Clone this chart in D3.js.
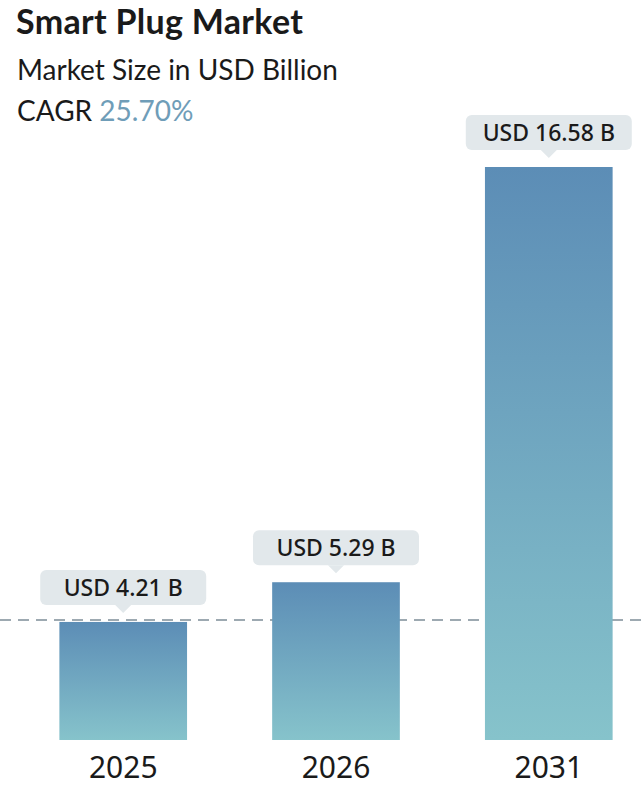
<!DOCTYPE html>
<html>
<head>
<meta charset="utf-8">
<script src="https://cdn.jsdelivr.net/npm/d3@7"></script>
<style>
  body { margin: 0; background: #fff; }
  svg { display: block; }
</style>
</head>
<body>
<div id="chart"></div>
<script>
// data
var years = ["2025", "2026", "2031"];
var marketSize = [4.21, 5.29, 16.58];
var valueLabels = ["USD 4.21 B", "USD 5.29 B", "USD 16.58 B"];
var cagr = "25.70%";

var width = 643, height = 791;
var margin = {top: 167, right: 29, bottom: 51, left: 58};

var svg = d3.select("#chart").append("svg")
    .attr("width", width)
    .attr("height", height);

// gradient for the bars, one per bar box
var grad = svg.append("defs").append("linearGradient")
    .attr("id", "barGrad")
    .attr("x1", 0).attr("y1", 0).attr("x2", 0).attr("y2", 1);
grad.append("stop").attr("offset", "0%").attr("stop-color", "#5c8db6");
grad.append("stop").attr("offset", "100%").attr("stop-color", "#86c3cb");

// titles
svg.append("text")
    .attr("x", 16).attr("y", 34)
    .style("font-family", "Lato, sans-serif")
    .style("font-weight", 700)
    .style("font-size", "34px")
    .style("letter-spacing", "0.3px")
    .style("fill", "#1a1a1a")
    .text("Smart Plug Market");

svg.append("text")
    .attr("x", 17).attr("y", 80)
    .style("font-family", "Lato, sans-serif")
    .style("font-size", "28px")
    .style("fill", "#1a1a1a")
    .text("Market Size in USD Billion");

var cagrText = svg.append("text")
    .attr("x", 17).attr("y", 121)
    .style("font-family", "Lato, sans-serif")
    .style("font-size", "28px")
    .style("fill", "#1a1a1a");
cagrText.append("tspan").text("CAGR ");
cagrText.append("tspan").style("fill", "#6f9db8").text(cagr);

// scales (bars in the picture don't start at zero)
var x = d3.scaleBand()
    .domain(years)
    .range([margin.left - 5, width - margin.right + 5])
    .paddingInner(0.4)
    .paddingOuter(0.03);

var y = d3.scaleLinear()
    .domain([1.0, d3.max(marketSize)])
    .range([height - margin.bottom, margin.top]);

var data = years.map(function(d, i) {
  return {year: d, value: marketSize[i], label: valueLabels[i]};
});

// dashed reference line at the first bar
svg.append("line")
    .attr("x1", 0).attr("x2", width)
    .attr("y1", y(marketSize[0]) - 2).attr("y2", y(marketSize[0]) - 2)
    .attr("stroke", "#7d8d98")
    .attr("stroke-width", 1.6)
    .attr("stroke-dasharray", "11,7");

svg.selectAll(".bar")
    .data(data)
  .enter().append("rect")
    .attr("class", "bar")
    .attr("x", function(d) { return x(d.year); })
    .attr("y", function(d) { return y(d.value); })
    .attr("width", x.bandwidth())
    .attr("height", function(d) { return y.range()[0] - y(d.value); })
    .attr("fill", "url(#barGrad)");

// callouts
var boxW = 166, boxH = 35;
var callout = svg.selectAll(".callout")
    .data(data)
  .enter().append("g")
    .attr("class", "callout")
    .attr("transform", function(d) {
      return "translate(" + (x(d.year) + x.bandwidth() / 2) + "," + (y(d.value) - 17) + ")";
    });

callout.append("rect")
    .attr("x", -boxW / 2)
    .attr("y", -boxH)
    .attr("width", boxW)
    .attr("height", boxH)
    .attr("rx", 6)
    .attr("fill", "#e2e8eb");

callout.append("path")
    .attr("d", "M-8,0 L0,8 L8,0 Z")
    .attr("fill", "#e2e8eb");

callout.append("text")
    .attr("x", 0)
    .attr("y", -9)
    .attr("text-anchor", "middle")
    .style("font-family", "'Noto Sans', sans-serif")
    .style("font-weight", 500)
    .style("font-size", "23px")
    .style("fill", "#1a1a1a")
    .text(function(d) { return d.label; });

// x axis labels
var xAxis = svg.append("g")
    .attr("transform", "translate(0," + (height - margin.bottom) + ")")
    .call(d3.axisBottom(x).tickSize(0).tickPadding(17));
xAxis.select(".domain").remove();
xAxis.selectAll("text")
    .attr("dy", "0.71em")
    .style("font-family", "'Noto Sans', sans-serif")
    .style("font-size", "30px")
    .style("fill", "#1a1a1a");
</script>
</body>
</html>
